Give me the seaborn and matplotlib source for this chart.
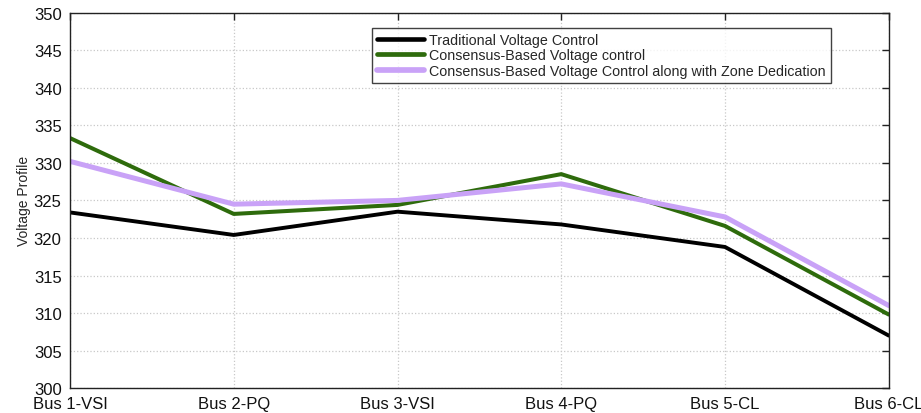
import matplotlib
matplotlib.use("Agg")
import matplotlib.pyplot as plt
import seaborn as sns
import pandas as pd

buses = ["Bus 1-VSI", "Bus 2-PQ", "Bus 3-VSI", "Bus 4-PQ", "Bus 5-CL", "Bus 6-CL"]
traditional = [323.4, 320.4, 323.5, 321.8, 318.8, 307.0]
consensus = [333.3, 323.2, 324.4, 328.5, 321.6, 309.8]
consensus_zone = [330.2, 324.5, 325.0, 327.2, 322.8, 311.0]

series_names = [
    "Traditional Voltage Control",
    "Consensus-Based Voltage control",
    "Consensus-Based Voltage Control along with Zone Dedication",
]
colors = ["#000000", "#2e6b0c", "#c9a2f7"]
widths = [2.8, 2.9, 3.6]

rows = []
for name, vals in zip(series_names, [traditional, consensus, consensus_zone]):
    for i, (b, v) in enumerate(zip(buses, vals)):
        rows.append({"pos": i, "bus": b, "voltage": v, "series": name})
df = pd.DataFrame(rows)

sns.set_theme(style="white")
plt.rcParams["font.family"] = ["Liberation Sans", "DejaVu Sans"]

fig = plt.figure(figsize=(9.21, 4.14), dpi=100)
ax = fig.add_axes([0.076, 0.06, 0.889, 0.907])

sns.lineplot(data=df, x="pos", y="voltage", hue="series", palette=colors,
             hue_order=series_names, ax=ax, legend=True, estimator=None)
for line, lw in zip(ax.get_lines(), widths):
    line.set_linewidth(lw)

ax.set_xlim(0, len(buses) - 1)
ax.set_ylim(300, 350)
ax.set_xticks(range(len(buses)))
ax.set_xticklabels(buses)
ax.set_yticks(range(300, 351, 5))
ax.set_xlabel("")
ax.set_ylabel("Voltage Profile", fontsize=10, labelpad=2)

ax.grid(True, color="#c8c8c8", linestyle=":", linewidth=0.9)
for s in ax.spines.values():
    s.set_visible(True)
    s.set_color("#222222")
    s.set_linewidth(1.0)
ax.tick_params(axis="both", direction="in", length=5, width=1, color="#222222",
               top=True, right=True, labelsize=12, labelcolor="#111111")
ax.tick_params(axis="x", pad=6)
ax.tick_params(axis="y", pad=6)

handles, labels = ax.get_legend_handles_labels()
for h, lw in zip(handles, widths):
    h.set_linewidth(lw + 0.5)
leg = ax.legend(handles, labels, loc="upper left", bbox_to_anchor=(0.369, 0.96),
                frameon=True, fancybox=False, fontsize=10.3, handlelength=3.3,
                borderpad=0.35, labelspacing=0.1, handletextpad=0.35, borderaxespad=0)
leg.get_frame().set_edgecolor("#111111")
leg.get_frame().set_linewidth(1.0)

fig.savefig("out.png", dpi=100)
